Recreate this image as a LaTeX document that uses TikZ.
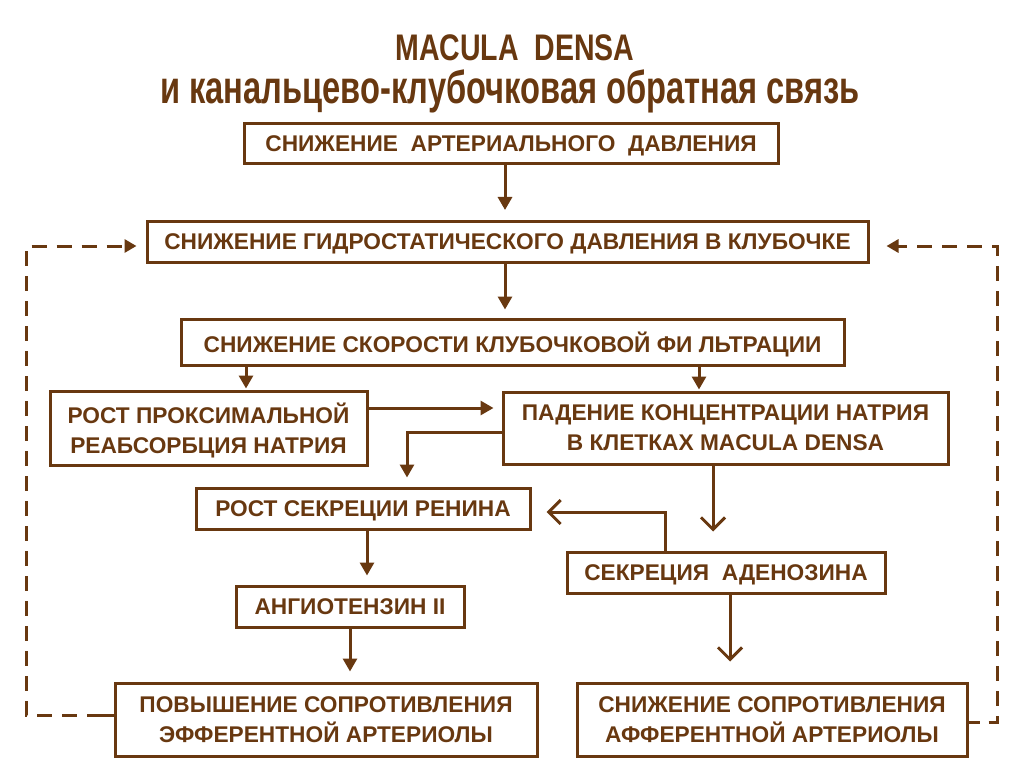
\documentclass[tikz,border=0pt]{standalone}
\usepackage{fontspec}
\setmainfont{Liberation Sans}
\newfontfamily\titlefont[FakeStretch=0.77]{Liberation Sans}
\newfontfamily\titlefontb[FakeStretch=0.71]{Liberation Sans}
\usetikzlibrary{arrows.meta}
\definecolor{brn}{RGB}{104,56,16}
\tikzset{
  box/.style={draw=brn, line width=3pt, inner sep=0pt, text=brn, text depth=0pt,
    font=\fontsize{22.7}{30}\selectfont\bfseries, align=center},
  arr/.style={draw=brn, line width=3pt, -{Triangle[length=13pt,width=14pt]}},
  bigarr/.style={draw=brn, line width=3pt, -{Straight Barb[length=12pt,width=24pt,line width=3pt]}},
  darr/.style={draw=brn, line width=3pt, dash pattern=on 15pt off 10pt, -{Triangle[length=12pt,width=13pt]}},
  ttl/.style={text=brn, anchor=base}
}
\begin{document}
\begin{tikzpicture}[x=1pt,y=-1pt]
\useasboundingbox (0,0) rectangle (1024,767);
\node[ttl, font=\titlefont\fontsize{37}{44}\selectfont\bfseries] (t1) at (515,61) {MACULA\ \ DENSA};
\node[ttl, font=\titlefontb\fontsize{46}{52}\selectfont\bfseries] (t2) at (510,104) {и канальцево-клубочковая обратная связь};

\node[box, minimum width=534pt, minimum height=40pt] (b1) at (511,144) {СНИЖЕНИЕ\ \ АРТЕРИАЛЬНОГО\ \ ДАВЛЕНИЯ};
\node[box, minimum width=721pt, minimum height=41pt] (b2) at (507.5,242) {СНИЖЕНИЕ ГИДРОСТАТИЧЕСКОГО ДАВЛЕНИЯ В КЛУБОЧКЕ};
\node[box, minimum width=663pt, minimum height=46pt] (b3) at (512.5,342) {СНИЖЕНИЕ СКОРОСТИ КЛУБОЧКОВОЙ ФИ ЛЬТРАЦИИ};
\node[box, minimum width=317pt, minimum height=74pt] (b4) at (208.5,428) {РОСТ ПРОКСИМАЛЬНОЙ\\РЕАБСОРБЦИЯ НАТРИЯ};
\node[box, minimum width=445pt, minimum height=72pt] (b5) at (725.5,428) {ПАДЕНИЕ КОНЦЕНТРАЦИИ НАТРИЯ\\В КЛЕТКАХ MACULA DENSA};
\node[box, minimum width=334pt, minimum height=41pt] (b6) at (363,508.5) {РОСТ СЕКРЕЦИИ РЕНИНА};
\node[box, minimum width=318pt, minimum height=41pt] (b7) at (726,572.5) {СЕКРЕЦИЯ\ \ АДЕНОЗИНА};
\node[box, minimum width=228pt, minimum height=41pt] (b8) at (350,606.5) {АНГИОТЕНЗИН II};
\node[box, minimum width=422pt, minimum height=73pt] (b9) at (326,719.5) {ПОВЫШЕНИЕ СОПРОТИВЛЕНИЯ\\ЭФФЕРЕНТНОЙ АРТЕРИОЛЫ};
\node[box, minimum width=390pt, minimum height=73pt] (b10) at (772,719.5) {СНИЖЕНИЕ СОПРОТИВЛЕНИЯ\\АФФЕРЕНТНОЙ АРТЕРИОЛЫ};

\coordinate (l1) at (26,715);
\coordinate (l2) at (26,246);
\coordinate (r1) at (997,722);
\coordinate (r2) at (997,246);

\draw[arr, shorten >=10pt] (b1.south -| 505,0) -- (b2.north -| 505,0);
\draw[arr, shorten >=8pt] (b2.south -| 505,0) -- (b3.north -| 505,0);
\draw[arr, shorten >=1pt] (b3.south -| 246,0) -- (b4.north -| 246,0);
\draw[arr, shorten >=1pt] (b3.south -| 699,0) -- (b5.north -| 699,0);
\draw[arr, shorten >=8pt] (b4.east |- 0,408) -- (b5.west |- 0,408);
\draw[arr, shorten >=9pt] (b5.west |- 0,432) -| (b6.north -| 407,0);
\draw[bigarr, shorten >=19pt] (b5.south -| 713,0) -- (b7.north -| 713,0);
\draw[bigarr, shorten >=15pt] (b7.north -| 665,0) |- (b6.east |- 0,512);
\draw[arr, shorten >=9pt] (b6.south -| 367,0) -- (b8.north -| 367,0);
\draw[arr, shorten >=10pt] (b8.south) -- (b9.north -| b8.south);
\draw[bigarr, shorten >=20pt] (b7.south -| 730,0) -- (b10.north -| 730,0);

\draw[draw=brn, line width=3pt] (b9.west |- l1) -- ++(-12,0);
\draw[darr, shorten >=9pt] ([xshift=-12pt]b9.west |- l1) -- (l1) -- (l2) -- (b2.west |- l2);
\draw[draw=brn, line width=3pt] (b10.east |- r1) -- ++(11,0);
\draw[darr, dash phase=-9pt, shorten >=17pt] ([xshift=11pt]b10.east |- r1) -- (r1) -- (r2) -- (b2.east |- r2);
\end{tikzpicture}
\end{document}
